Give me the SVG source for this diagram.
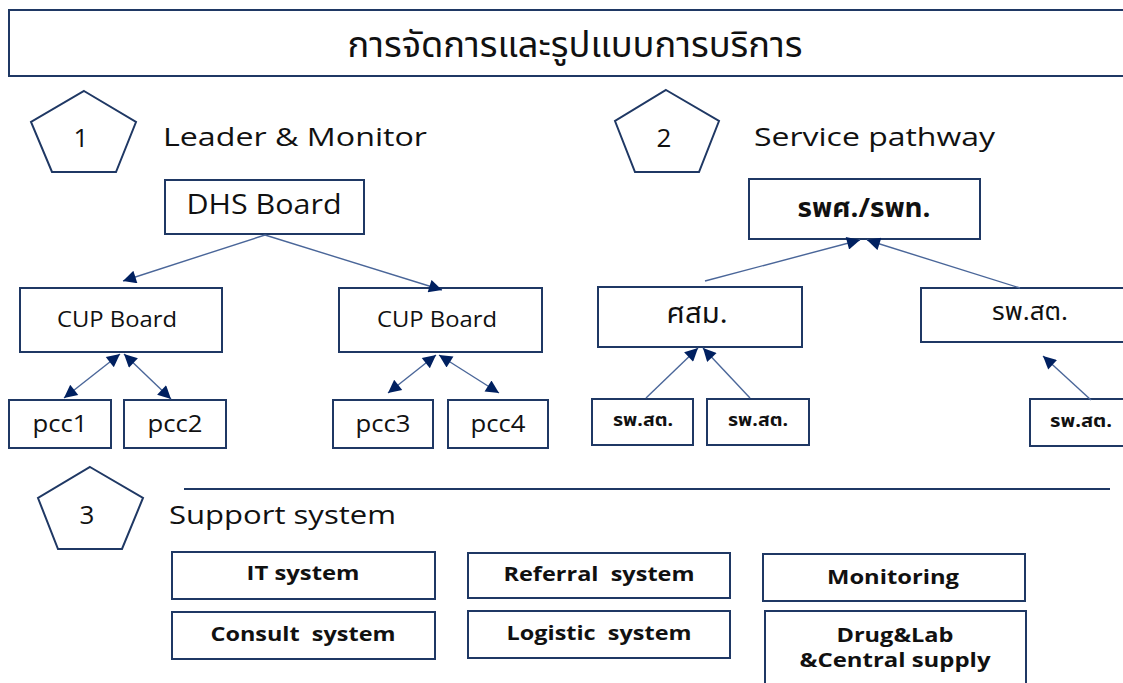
<svg xmlns="http://www.w3.org/2000/svg" width="1123" height="683" viewBox="0 0 1123 683">
  <style>
    .box { fill: #ffffff; stroke: #1f3864; stroke-width: 2; }
    .pent { fill: #ffffff; stroke: #1f3864; stroke-width: 2; stroke-linejoin: miter; }
    .link { fill: none; stroke: #4a6699; stroke-width: 1.4; }
    .head { font-family: "Open Sans", "Noto Sans", sans-serif; font-size: 26px; fill: #111111; }
    .num { font-family: "Open Sans", "Noto Sans", sans-serif; font-size: 26px; fill: #111111; text-anchor: middle; }
    .lbl { font-family: "Open Sans", "Noto Sans", sans-serif; fill: #111111; text-anchor: middle; }
    .bold { font-family: "Open Sans", "Noto Sans", sans-serif; font-weight: bold; font-size: 20px; fill: #111111; text-anchor: middle; }
    .thai { font-family: "Noto Sans Thai", "Tahoma", "Liberation Sans", sans-serif; fill: #111111; text-anchor: middle; }
  </style>
  <defs>
    <marker id="tip" viewBox="0 0 10 10" refX="10" refY="5" markerWidth="16" markerHeight="13" markerUnits="userSpaceOnUse" orient="auto-start-reverse">
      <path d="M0,0 L10,5 L0,10 Z" fill="#002060"/>
    </marker>
  </defs>

  <!-- title banner -->
  <g id="title">
    <rect class="box" x="9" y="10" width="1120" height="66"/>
    <text class="thai" x="575" y="57" font-size="35" textLength="455" lengthAdjust="spacingAndGlyphs">การจัดการและรูปแบบการบริการ</text>
  </g>

  <!-- section 1 -->
  <g id="section1">
    <polygon class="pent" points="84,91 136,122 116,172 52,172 31,122"/>
    <text class="num" x="81" y="147">1</text>
    <text class="head" x="163" y="146" textLength="264" lengthAdjust="spacingAndGlyphs">Leader &amp; Monitor</text>
  </g>
  <g id="dhs">
    <rect class="box" x="165" y="180" width="199" height="54"/>
    <text class="lbl" x="264" y="214" font-size="27" textLength="155" lengthAdjust="spacingAndGlyphs">DHS Board</text>
  </g>
  <g id="cup1">
    <rect class="box" x="20" y="288" width="202" height="64"/>
    <text class="lbl" x="117" y="327" font-size="22" textLength="120" lengthAdjust="spacingAndGlyphs">CUP Board</text>
  </g>
  <g id="cup2">
    <rect class="box" x="339" y="288" width="203" height="64"/>
    <text class="lbl" x="437" y="327" font-size="22" textLength="120" lengthAdjust="spacingAndGlyphs">CUP Board</text>
  </g>
  <g id="pcc1">
    <rect class="box" x="9" y="400" width="102" height="48"/>
    <text class="lbl" x="60" y="432" font-size="24" textLength="55" lengthAdjust="spacingAndGlyphs">pcc1</text>
  </g>
  <g id="pcc2">
    <rect class="box" x="124" y="400" width="102" height="48"/>
    <text class="lbl" x="175" y="432" font-size="24" textLength="55" lengthAdjust="spacingAndGlyphs">pcc2</text>
  </g>
  <g id="pcc3">
    <rect class="box" x="333" y="400" width="100" height="48"/>
    <text class="lbl" x="383" y="432" font-size="24" textLength="55" lengthAdjust="spacingAndGlyphs">pcc3</text>
  </g>
  <g id="pcc4">
    <rect class="box" x="448" y="400" width="100" height="48"/>
    <text class="lbl" x="498" y="432" font-size="24" textLength="55" lengthAdjust="spacingAndGlyphs">pcc4</text>
  </g>

  <!-- section 2 -->
  <g id="section2">
    <polygon class="pent" points="666,90 719,121 699,172 635,172 615,121"/>
    <text class="num" x="664" y="147">2</text>
    <text class="head" x="754" y="146" textLength="241" lengthAdjust="spacingAndGlyphs">Service pathway</text>
  </g>
  <g id="hospital">
    <rect class="box" x="749" y="179" width="231" height="60"/>
    <text class="thai" x="864" y="217" font-size="26" font-weight="bold" textLength="133" lengthAdjust="spacingAndGlyphs">รพศ./รพท.</text>
  </g>
  <g id="psc">
    <rect class="box" x="598" y="287" width="204" height="60"/>
    <text class="thai" x="697" y="323" font-size="28" textLength="61" lengthAdjust="spacingAndGlyphs">ศสม.</text>
  </g>
  <g id="tambon">
    <rect class="box" x="921" y="288" width="210" height="54"/>
    <text class="thai" x="1030" y="320" font-size="24" textLength="76" lengthAdjust="spacingAndGlyphs">รพ.สต.</text>
  </g>
  <g id="tambon1">
    <rect class="box" x="592" y="399" width="101" height="46"/>
    <text class="thai" x="643" y="426" font-size="18" font-weight="bold" textLength="60" lengthAdjust="spacingAndGlyphs">รพ.สต.</text>
  </g>
  <g id="tambon2">
    <rect class="box" x="707" y="399" width="102" height="46"/>
    <text class="thai" x="758" y="426" font-size="18" font-weight="bold" textLength="60" lengthAdjust="spacingAndGlyphs">รพ.สต.</text>
  </g>
  <g id="tambon3">
    <rect class="box" x="1030" y="399" width="101" height="47"/>
    <text class="thai" x="1081" y="427" font-size="18" font-weight="bold" textLength="62" lengthAdjust="spacingAndGlyphs">รพ.สต.</text>
  </g>

  <!-- section 3 -->
  <g id="section3">
    <polygon class="pent" points="90,467 143,498 122,549 58,549 38,498"/>
    <text class="num" x="87" y="524">3</text>
    <text class="head" x="169" y="524" textLength="227" lengthAdjust="spacingAndGlyphs">Support system</text>
    <line x1="184" y1="489" x2="1110" y2="489" stroke="#1f3864" stroke-width="2"/>
  </g>
  <g id="it">
    <rect class="box" x="172" y="552" width="263" height="47"/>
    <text class="bold" x="303" y="580" textLength="113" lengthAdjust="spacingAndGlyphs">IT system</text>
  </g>
  <g id="consult">
    <rect class="box" x="172" y="612" width="263" height="47"/>
    <text class="bold" x="303" y="641" xml:space="preserve" textLength="185" lengthAdjust="spacingAndGlyphs">Consult  system</text>
  </g>
  <g id="referral">
    <rect class="box" x="468" y="553" width="262" height="45"/>
    <text class="bold" x="599" y="581" xml:space="preserve" textLength="191" lengthAdjust="spacingAndGlyphs">Referral  system</text>
  </g>
  <g id="logistic">
    <rect class="box" x="468" y="611" width="262" height="47"/>
    <text class="bold" x="599" y="640" xml:space="preserve" textLength="185" lengthAdjust="spacingAndGlyphs">Logistic  system</text>
  </g>
  <g id="monitoring">
    <rect class="box" x="763" y="554" width="262" height="47"/>
    <text class="bold" x="893" y="584" textLength="132" lengthAdjust="spacingAndGlyphs">Monitoring</text>
  </g>
  <g id="supply">
    <rect class="box" x="765" y="611" width="261" height="80"/>
    <text class="bold" x="895" y="642" textLength="117" lengthAdjust="spacingAndGlyphs">Drug&amp;Lab</text>
    <text class="bold" x="895" y="667" textLength="191" lengthAdjust="spacingAndGlyphs">&amp;Central supply</text>
  </g>

  <!-- connectors -->
  <g id="connectors">
    <line class="link" x1="265" y1="235" x2="123" y2="281" marker-end="url(#tip)"/>
    <line class="link" x1="265" y1="235" x2="442" y2="290" marker-end="url(#tip)"/>
    <line class="link" x1="64" y1="398" x2="120" y2="354" marker-start="url(#tip)" marker-end="url(#tip)"/>
    <line class="link" x1="124" y1="354" x2="171" y2="399" marker-start="url(#tip)" marker-end="url(#tip)"/>
    <line class="link" x1="388" y1="393" x2="436" y2="355" marker-start="url(#tip)" marker-end="url(#tip)"/>
    <line class="link" x1="439" y1="355" x2="499" y2="393" marker-start="url(#tip)" marker-end="url(#tip)"/>
    <line class="link" x1="705" y1="281" x2="860" y2="240" marker-end="url(#tip)"/>
    <line class="link" x1="1020" y1="288" x2="867" y2="240" marker-end="url(#tip)"/>
    <line class="link" x1="646" y1="398" x2="698" y2="348" marker-end="url(#tip)"/>
    <line class="link" x1="750" y1="398" x2="703" y2="348" marker-end="url(#tip)"/>
    <line class="link" x1="1091" y1="400" x2="1043" y2="356" marker-end="url(#tip)"/>
  </g>
</svg>
